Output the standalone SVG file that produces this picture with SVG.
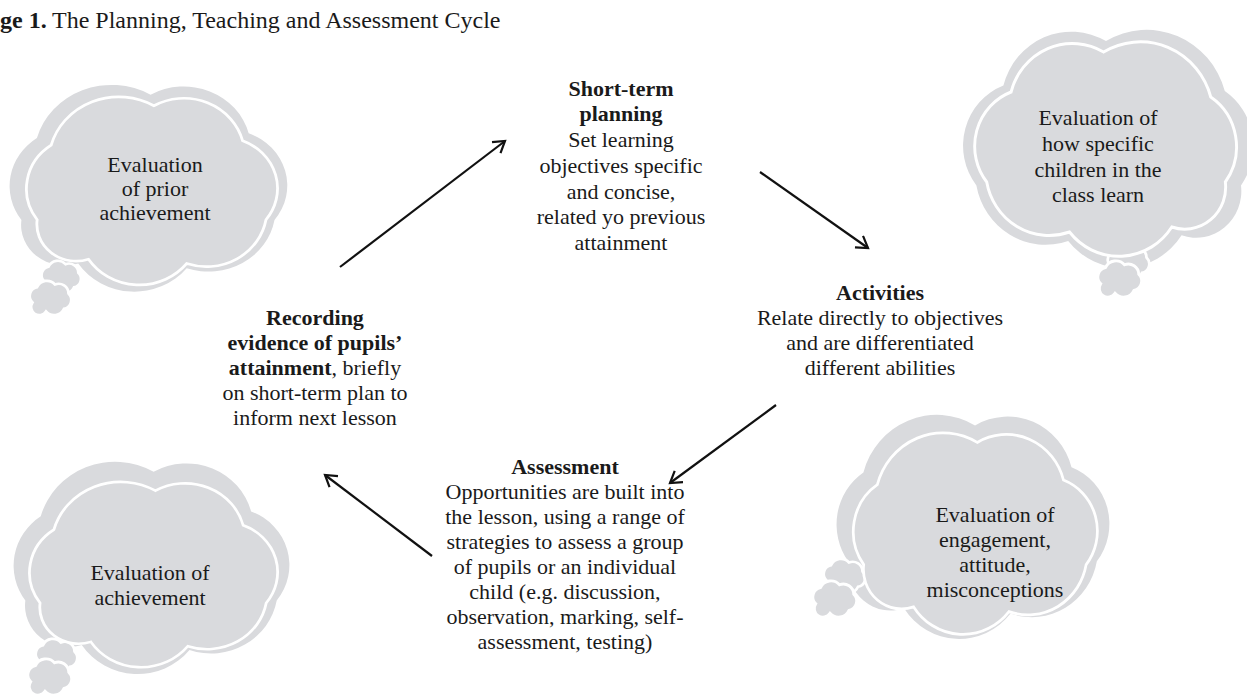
<svg xmlns="http://www.w3.org/2000/svg" width="1247" height="697" viewBox="0 0 1247 697">
<style>
.t{font-family:"Liberation Serif","Times New Roman",serif;font-size:22px;fill:#1a1a1a;text-anchor:middle}
.b{font-weight:bold}
.cb{fill:#d9dadd}
.cf{fill:#d9dadd;stroke:#fff;stroke-width:3;vector-effect:non-scaling-stroke}
.ar{stroke:#111;stroke-width:2.2;fill:none}
</style>
<defs>
<path id="cloud" d="M 25 150 A 60 60 0 0 1 40 65 A 75 75 0 0 1 150 20 A 65 65 0 0 1 245 60 A 58 58 0 0 1 270 150 A 65 65 0 0 1 185 200 A 65 65 0 0 1 80 195 A 42 42 0 0 1 25 150 Z"/>
<path id="puff" d="M 5 25 A 10 10 0 0 1 10 8 A 12 12 0 0 1 30 5 A 11 11 0 0 1 45 15 A 10 10 0 0 1 40 32 A 12 12 0 0 1 20 35 A 9 9 0 0 1 5 25 Z"/>
<marker id="ah" markerWidth="20" markerHeight="20" refX="12" refY="8" orient="auto" markerUnits="userSpaceOnUse">
<path d="M1,1 L12,8 L1,15" fill="none" stroke="#111" stroke-width="2.2"/>
</marker>
</defs>
<rect width="1247" height="697" fill="#fff"/>
<g id="title">
<text y="28" style="font-family:'Liberation Serif',serif;font-size:24px;fill:#1a1a1a"><tspan x="0" font-weight="bold">ge 1.</tspan><tspan x="52">The Planning, Teaching and Assessment Cycle</tspan></text>
</g>
<g id="cloud-prior">
<use href="#cloud" class="cb" transform="translate(-4.4,75.4) scale(1.033,0.964)"/>
<use href="#puff" class="cf" transform="translate(40,260) scale(0.85)"/>
<use href="#puff" class="cf" transform="translate(28,280) scale(0.9)"/>
<use href="#cloud" class="cf" transform="translate(13.8,88.2) scale(0.934,0.877)"/>
<text class="t" x="155" y="172">Evaluation</text>
<text class="t" x="155" y="196">of prior</text>
<text class="t" x="155" y="220">achievement</text>
</g>
<g id="cloud-children">
<use href="#cloud" class="cb" transform="translate(1268,18.9) scale(-1.08,1.11)"/>
<use href="#puff" class="cf" transform="translate(1106,244) scale(0.9)"/>
<use href="#puff" class="cf" transform="translate(1096,260) scale(0.95)"/>
<use href="#cloud" class="cf" transform="translate(1249.7,32) scale(-0.974,1)"/>
<text class="t" x="1098" y="125">Evaluation of</text>
<text class="t" x="1098" y="151">how specific</text>
<text class="t" x="1098" y="177">children in the</text>
<text class="t" x="1098" y="202">class learn</text>
</g>
<g id="cloud-achievement">
<use href="#cloud" class="cb" transform="translate(-0.3,452) scale(1.026,0.99)"/>
<use href="#puff" class="cf" transform="translate(34,638) scale(0.9)"/>
<use href="#puff" class="cf" transform="translate(26,658) scale(0.95)"/>
<use href="#cloud" class="cf" transform="translate(17,473.4) scale(0.923,0.864)"/>
<text class="t" x="150" y="580">Evaluation of</text>
<text class="t" x="150" y="605">achievement</text>
</g>
<g id="cloud-engagement">
<use href="#cloud" class="cb" transform="translate(822.8,404.5) scale(1.015,1.045)"/>
<use href="#puff" class="cf" transform="translate(822,558) scale(0.9)"/>
<use href="#puff" class="cf" transform="translate(811,580) scale(0.95)"/>
<use href="#cloud" class="cf" transform="translate(841,423.6) scale(0.908,0.94)"/>
<text class="t" x="995" y="522">Evaluation of</text>
<text class="t" x="995" y="547">engagement,</text>
<text class="t" x="995" y="572">attitude,</text>
<text class="t" x="995" y="597">misconceptions</text>
</g>
<g id="planning">
<text class="t b" x="621" y="96">Short-term</text>
<text class="t b" x="621" y="121">planning</text>
<text class="t" x="621" y="147">Set learning</text>
<text class="t" x="621" y="173">objectives specific</text>
<text class="t" x="621" y="199">and concise,</text>
<text class="t" x="621" y="224">related yo previous</text>
<text class="t" x="621" y="250">attainment</text>
</g>
<g id="activities">
<text class="t b" x="880" y="300">Activities</text>
<text class="t" x="880" y="325">Relate directly to objectives</text>
<text class="t" x="880" y="350">and are differentiated</text>
<text class="t" x="880" y="375">different abilities</text>
</g>
<g id="assessment">
<text class="t b" x="565" y="474">Assessment</text>
<text class="t" x="565" y="499">Opportunities are built into</text>
<text class="t" x="565" y="524">the lesson, using a range of</text>
<text class="t" x="565" y="549">strategies to assess a group</text>
<text class="t" x="565" y="574">of pupils or an individual</text>
<text class="t" x="565" y="599">child (e.g. discussion,</text>
<text class="t" x="565" y="624">observation, marking, self-</text>
<text class="t" x="565" y="649">assessment, testing)</text>
</g>
<g id="recording">
<text class="t b" x="315" y="325">Recording</text>
<text class="t b" x="315" y="350">evidence of pupils’</text>
<text class="t" x="315" y="375"><tspan font-weight="bold">attainment</tspan>, briefly</text>
<text class="t" x="315" y="400">on short-term plan to</text>
<text class="t" x="315" y="425">inform next lesson</text>
</g>
<g id="connectors">
<line class="ar" x1="340" y1="267" x2="505" y2="141" marker-end="url(#ah)"/>
<line class="ar" x1="760" y1="172" x2="868" y2="248" marker-end="url(#ah)"/>
<line class="ar" x1="776" y1="405" x2="670" y2="483" marker-end="url(#ah)"/>
<line class="ar" x1="432" y1="556" x2="325" y2="475" marker-end="url(#ah)"/>
</g>
</svg>
